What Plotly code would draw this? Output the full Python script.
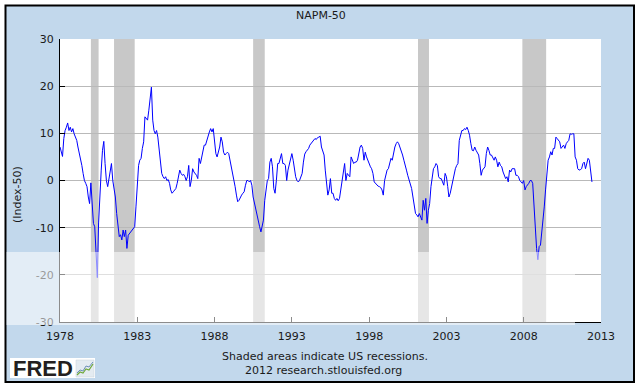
import pandas as pd
import plotly.graph_objects as go

# ---------------- data ----------------
start_month = "1978-01-01"
napm_minus_50 = [
    # 1978
    7.1, 6.0, 5.1, 8.9, 10.6, 11.3, 12.2, 10.6, 11.3, 10.3, 11.0, 9.9,
    # 1979
    9.2, 8.5, 7.1, 6.0, 4.3, 3.2, 1.5, 0.0, -0.6, -1.3, -3.5, -4.9,
    # 1980
    -0.5, -4.2, -9.1, -9.8, -17.0, -20.6, -9.0, -2.0, 2.2, 6.4, 8.3, 3.6,
    # 1981
    0.0, -1.3, 0.0, 2.2, 3.6, 0.0, -2.0, -3.5, -7.0, -9.1, -11.9, -11.5,
    # 1982
    -12.6, -10.5, -11.9, -10.5, -14.4, -11.6, -11.2, -10.9, -10.5, -10.1, -9.8, -5.6,
    # 1983
    0.0, 3.2, 4.3, 4.7, 6.8, 8.2, 13.5, 13.1, 12.8, 14.9, 17.7, 19.8,
    # 1984
    12.8, 10.6, 9.9, 10.6, 9.2, 6.4, 4.3, 1.5, 0.8, 0.4, 0.8, 0.0,
    # 1985
    0.2, -0.6, -2.0, -2.7, -2.4, -2.0, -1.7, -0.6, 1.1, 2.2, 1.5, 1.1,
    # 1986
    1.3, 0.8, 0.0, 0.8, 3.2, -1.3, 0.0, 2.5, 1.8, 1.5, 1.1, 0.4,
    # 1987
    4.7, 3.6, 5.0, 6.8, 7.5, 7.5, 8.5, 9.6, 10.3, 11.0, 10.3, 11.0,
    # 1988
    8.5, 5.7, 5.0, 6.0, 7.1, 9.2, 8.2, 6.0, 5.4, 5.7, 6.0, 5.7,
    # 1989
    4.3, 3.2, 1.8, 0.8, -1.3, -3.1, -4.5, -4.2, -3.5, -3.1, -2.7, -2.4,
    # 1990
    -1.0, 0.0, 0.0, -0.3, 0.0, -1.0, -3.5, -4.9, -5.9, -7.7, -9.1, -9.8,
    # 1991
    -10.9, -9.8, -8.4, -4.2, -2.0, 0.0, 0.4, 3.9, 4.7, 2.9, -1.7, -2.7,
    # 1992
    0.0, 3.6, 3.6, 4.7, 5.7, 3.6, 3.6, 3.2, 0.0, 2.2, 3.6, 4.7,
    # 1993
    5.7, 4.3, 2.2, 0.8, 0.0, -0.3, 0.0, 0.8, 1.5, 3.9, 5.6, 6.1,
    # 1994
    6.4, 6.8, 7.5, 7.8, 8.2, 8.5, 8.9, 8.7, 9.1, 9.2, 9.4, 7.1,
    # 1995
    6.4, 5.4, 2.2, 0.0, -3.1, -2.0, 0.4, -2.7, -2.7, -3.8, -4.2, -3.8,
    # 1996
    -4.3, -3.8, -2.0, 0.0, 1.8, 3.6, 0.0, 1.5, 1.1, 0.8, 5.0, 4.3,
    # 1997
    3.6, 3.9, 3.9, 4.3, 6.0, 7.1, 7.5, 6.8, 4.3, 6.0, 5.0, 4.3,
    # 1998
    3.2, 2.9, 2.5, 1.5, -0.3, -0.6, -1.0, -1.2, -1.3, -1.5, -2.0, -3.1,
    # 1999
    0.0, 1.1, 2.2, 2.5, 3.6, 4.7, 4.3, 6.0, 7.1, 7.8, 8.2, 7.8,
    # 2000
    7.1, 6.0, 5.4, 4.3, 2.9, 2.2, 1.1, 0.0, -1.0, -1.7, -3.5, -5.6,
    # 2001
    -7.0, -7.3, -7.7, -7.0, -7.7, -8.4, -4.2, -6.3, -3.8, -9.1, -6.3, -4.9,
    # 2002
    -1.3, 1.5, 2.5, 2.9, 3.6, 3.2, 0.8, 0.4, 0.4, -0.3, -1.0, 1.5,
    # 2003
    0.8, -1.3, -3.5, -2.7, -1.3, 0.0, 0.8, 2.5, 3.2, 3.6, 8.5, 9.6,
    # 2004
    10.6, 10.6, 11.0, 10.8, 11.3, 10.6, 9.6, 7.8, 6.4, 6.3, 7.1, 6.4,
    # 2005
    6.0, 5.4, 3.6, 1.1, 2.2, 2.5, 2.9, 5.7, 7.1, 6.4, 5.4, 5.4,
    # 2006
    4.9, 4.3, 5.0, 4.3, 2.9, 3.9, 3.2, 2.9, 1.8, 1.1, 0.4, 0.8,
    # 2007
    -0.3, 2.2, 1.8, 2.5, 2.5, 2.5, 1.1, 1.1, 0.8, 0.0, -0.3, -0.6,
    # 2008
    0.0, -2.0, -1.3, -1.0, -0.6, 0.0, 0.0, -0.6, -5.0, -11.5, -14.4, -16.8,
    # 2009
    -14.0, -13.7, -11.2, -9.1, -5.6, -2.0, 1.1, 4.3, 5.0, 6.1, 5.4, 6.8,
    # 2010
    6.8, 9.2, 8.9, 8.5, 8.2, 6.8, 7.1, 7.5, 6.8, 7.8, 8.2, 8.5,
    # 2011
    9.9, 9.8, 9.9, 9.9, 5.0, 4.3, 2.5, 2.2, 2.3, 2.5, 3.6, 3.9,
    # 2012
    2.5, 3.9, 4.7, 4.3, 2.2, -0.3,
]

recession_starts = ["1980-01-01", "1981-07-01", "1990-07-01", "2001-03-01", "2007-12-01"]
recession_ends = ["1980-07-01", "1982-11-01", "1991-04-01", "2001-11-15", "2009-06-15"]

x_tick_years = [1978, 1983, 1988, 1993, 1998, 2003, 2008, 2013]
y_tick_values = [-30, -20, -10, 0, 10, 20, 30]
y_tick_labels = ["-30", "-20", "-10", "0", "10", "20", "30"]

title_text = "NAPM-50"
y_title = "(Index-50)"
note_line1 = "Shaded areas indicate US recessions."
note_line2 = "2012 research.stlouisfed.org"

# ---------------- figure ----------------
dates = pd.date_range(start_month, periods=len(napm_minus_50), freq="MS")

W, H = 637, 384
L, R, T, B = 60, 36, 39, 62
pw, ph = W - L - R, H - T - B


def px(xpix):
    return (xpix - L) / pw


def py(ypix):
    return (H - B - ypix) / ph


BG = "#C2D8EC"
FONT = "DejaVu Sans"
TXT = "#1a1a1a"

fig = go.Figure()
fig.add_trace(go.Scatter(
    x=dates, y=napm_minus_50, mode="lines",
    line=dict(color="#0000FF", width=1),
    hoverinfo="skip", showlegend=False,
))

shapes = []
# outer light-blue box with black frame
shapes.append(dict(type="rect", xref="paper", yref="paper",
                   x0=px(5.5), x1=px(634), y0=py(382), y1=py(5.5),
                   fillcolor=BG, line=dict(color="black", width=2), layer="below"))
# white plot area
shapes.append(dict(type="rect", xref="paper", yref="paper",
                   x0=0, x1=1, y0=0, y1=1,
                   fillcolor="white", line=dict(width=0), layer="below"))
# recession shading
for s, e in zip(recession_starts, recession_ends):
    shapes.append(dict(type="rect", xref="x", yref="paper", x0=s, x1=e, y0=0, y1=1,
                       fillcolor="#C8C8C8", line=dict(width=0), layer="below"))

# faint white band (image watermark area in the reference)
shapes.append(dict(type="rect", xref="paper", yref="paper",
                   x0=px(6.5), x1=px(575), y0=py(325), y1=py(252),
                   fillcolor="white", opacity=0.55, line=dict(width=0), layer="above"))

# FRED logo box
shapes.append(dict(type="rect", xref="paper", yref="paper",
                   x0=px(10), x1=px(95), y0=py(378), y1=py(358),
                   fillcolor="white", line=dict(width=0), layer="above"))
shapes.append(dict(type="rect", xref="paper", yref="paper",
                   x0=px(76), x1=px(94), y0=py(377), y1=py(360),
                   fillcolor="#E4EBF1", line=dict(color="#C9D3DB", width=0.5), layer="above"))


def path(points):
    d = "M " + " L ".join(f"{px(a):.5f},{py(b):.5f}" for a, b in points)
    return d


shapes.append(dict(type="path", xref="paper", yref="paper",
                   path=path([(77, 375), (80, 372), (83, 373), (86, 369), (89, 370), (93, 364)]),
                   line=dict(color="#6FA83A", width=1.2), layer="above"))
shapes.append(dict(type="path", xref="paper", yref="paper",
                   path=path([(77, 373), (80, 370), (83, 371), (86, 366), (89, 367), (93, 362)]),
                   line=dict(color="#6D8FB8", width=1), layer="above"))

annotations = [
    dict(text=title_text, x=px(321), y=py(15), xref="paper", yref="paper",
         showarrow=False, xanchor="center", yanchor="middle",
         font=dict(family=FONT, size=11, color=TXT)),
    dict(text=y_title, x=px(18), y=py(195), xref="paper", yref="paper",
         showarrow=False, xanchor="center", yanchor="middle", textangle=-90,
         font=dict(family=FONT, size=11, color=TXT)),
    dict(text=note_line1, x=px(325), y=py(356), xref="paper", yref="paper",
         showarrow=False, xanchor="center", yanchor="middle",
         font=dict(family=FONT, size=11, color=TXT)),
    dict(text=note_line2, x=px(323), y=py(370), xref="paper", yref="paper",
         showarrow=False, xanchor="center", yanchor="middle",
         font=dict(family=FONT, size=11, color=TXT)),
    dict(text="<b>FRED</b>", x=px(11), y=py(368.5), xref="paper", yref="paper",
         showarrow=False, xanchor="left", yanchor="middle",
         font=dict(family="Liberation Sans", size=22, color="#231F20")),
]

fig.update_layout(
    width=W, height=H,
    margin=dict(l=L, r=R, t=T, b=B, pad=0),
    paper_bgcolor="white", plot_bgcolor="white",
    shapes=shapes, annotations=annotations,
    showlegend=False, hovermode=False,
    xaxis=dict(
        type="date",
        range=["1978-01-01", "2013-01-01"],
        tickvals=[f"{y}-01-01" for y in x_tick_years],
        ticktext=[str(y) for y in x_tick_years],
        ticks="inside", ticklen=5, tickcolor="black", tickwidth=1,
        showline=True, linecolor="black", linewidth=1,
        showgrid=False, zeroline=False,
        ticklabelstandoff=4,
        tickfont=dict(family=FONT, size=11, color=TXT),
        fixedrange=True,
    ),
    yaxis=dict(
        range=[-30, 30],
        tickvals=y_tick_values, ticktext=y_tick_labels,
        ticks="inside", ticklen=5, tickcolor="black", tickwidth=1,
        showline=True, linecolor="black", linewidth=1,
        showgrid=True, gridcolor="#B9B9B9", gridwidth=1,
        zeroline=False,
        ticklabelstandoff=3,
        tickfont=dict(family=FONT, size=11, color=TXT),
        fixedrange=True,
    ),
)

fig.write_html(
    "out.html",
    config={"displayModeBar": False, "staticPlot": True},
    post_script="document.body.style.margin='0';document.body.style.overflow='hidden';",
)
